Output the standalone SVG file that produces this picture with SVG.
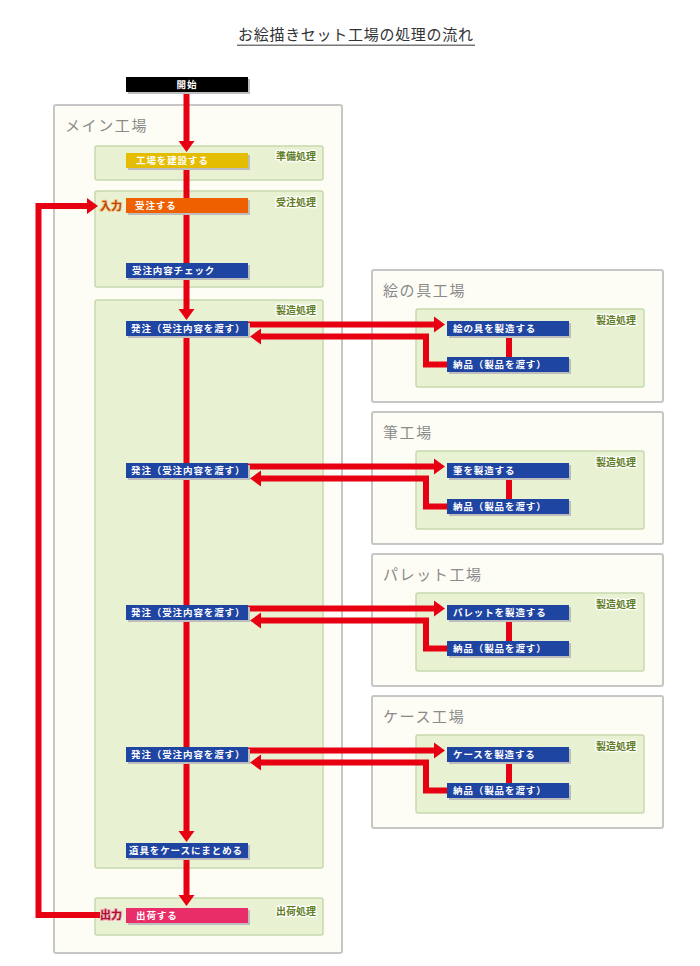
<svg xmlns="http://www.w3.org/2000/svg" width="700" height="966" viewBox="0 0 700 966">
<defs>
<style>
text{font-family:"Noto Sans CJK JP","Noto Sans",sans-serif}
.title{font-size:15px;fill:#333}
.outer{fill:#fdfdf6;stroke:#c6c6c6;stroke-width:2}
.inner{fill:#e8f2d2;stroke:#c6d9ae;stroke-width:1.5}
.ftitle{font-size:15px;fill:#8a8a8a;letter-spacing:1.6px}
.plabel{font-size:10px;font-weight:bold;fill:#5f7d22;stroke:#fff;stroke-width:2.5px;paint-order:stroke;stroke-linejoin:round;text-anchor:end}
.shadow{fill:#bdbdbd}
.nt{font-size:9.5px;font-weight:bold;fill:#fff;letter-spacing:0.9px}
.blue{fill:#1f45a2}
.conn{fill:none;stroke:#e60012;stroke-width:6;stroke-linejoin:miter}
</style>
<marker id="ah" markerUnits="userSpaceOnUse" markerWidth="12" markerHeight="18" refX="0" refY="9" orient="auto">
<path d="M0,1 L11,9 L0,17 Z" fill="#e60012"/>
</marker>
</defs>
<rect width="700" height="966" fill="#fff"/>
<g id="title">
<text class="title" x="238" y="40" textLength="235" lengthAdjust="spacing">お絵描きセット工場の処理の流れ</text>
<rect x="237" y="44.5" width="238" height="1.5" fill="#777"/>
</g>

<g id="main-factory">
<rect class="outer" x="54" y="105" width="288" height="848" rx="2"/>
<text class="ftitle" x="65" y="131">メイン工場</text>
<rect class="inner" x="95" y="146" width="228" height="34" rx="2"/>
<text class="plabel" x="316" y="160">準備処理</text>
<rect class="inner" x="95" y="191" width="228" height="96" rx="2"/>
<text class="plabel" x="316" y="206">受注処理</text>
<rect class="inner" x="95" y="300" width="228" height="568" rx="2"/>
<text class="plabel" x="316" y="314">製造処理</text>
<rect class="inner" x="95" y="898" width="228" height="37" rx="2"/>
<text class="plabel" x="316" y="915">出荷処理</text>
</g>

<g id="paint-factory">
<rect class="outer" x="372" y="270" width="291" height="132" rx="2"/>
<text class="ftitle" x="383" y="296">絵の具工場</text>
<rect class="inner" x="416" y="309" width="228" height="78" rx="2"/>
<text class="plabel" x="636" y="324">製造処理</text>
</g>
<g id="brush-factory">
<rect class="outer" x="372" y="412" width="291" height="132" rx="2"/>
<text class="ftitle" x="383" y="438">筆工場</text>
<rect class="inner" x="416" y="451" width="228" height="78" rx="2"/>
<text class="plabel" x="636" y="466">製造処理</text>
</g>
<g id="palette-factory">
<rect class="outer" x="372" y="554" width="291" height="132" rx="2"/>
<text class="ftitle" x="383" y="580">パレット工場</text>
<rect class="inner" x="416" y="593" width="228" height="78" rx="2"/>
<text class="plabel" x="636" y="608">製造処理</text>
</g>
<g id="case-factory">
<rect class="outer" x="372" y="696" width="291" height="132" rx="2"/>
<text class="ftitle" x="383" y="722">ケース工場</text>
<rect class="inner" x="416" y="735" width="228" height="78" rx="2"/>
<text class="plabel" x="636" y="750">製造処理</text>
</g>

<g id="connectors">
<path class="conn" d="M186.5,92 V141" marker-end="url(#ah)"/>
<path class="conn" d="M186.5,168 V309" marker-end="url(#ah)"/>
<path class="conn" d="M186.5,336 V831" marker-end="url(#ah)"/>
<path class="conn" d="M186.5,857 V895" marker-end="url(#ah)"/>
<path class="conn" d="M100,915 H38.5 V206 H87" marker-end="url(#ah)"/>
<path class="conn" d="M248,324.5 H434" marker-end="url(#ah)"/>
<path class="conn" d="M447,364.5 H426 V336.5 H261" marker-end="url(#ah)"/>
<path class="conn" d="M509,336 V357"/>
<path class="conn" d="M248,466.5 H434" marker-end="url(#ah)"/>
<path class="conn" d="M447,506.5 H426 V478.5 H261" marker-end="url(#ah)"/>
<path class="conn" d="M509,478 V499"/>
<path class="conn" d="M248,608.5 H434" marker-end="url(#ah)"/>
<path class="conn" d="M447,648.5 H426 V620.5 H261" marker-end="url(#ah)"/>
<path class="conn" d="M509,620 V641"/>
<path class="conn" d="M248,750.5 H434" marker-end="url(#ah)"/>
<path class="conn" d="M447,790.5 H426 V762.5 H261" marker-end="url(#ah)"/>
<path class="conn" d="M509,762 V783"/>
</g>

<g id="start">
<rect class="shadow" x="128" y="79" width="122" height="15"/>
<rect x="126" y="77" width="122" height="15" fill="#000"/>
<text class="nt" x="187" y="88" text-anchor="middle">開始</text>
</g>
<g id="build">
<rect class="shadow" x="128" y="155" width="122" height="15"/>
<rect x="126" y="153" width="122" height="15" fill="#e5bd00"/>
<text class="nt" x="136" y="164">工場を建設する</text>
</g>
<g id="input-label">
<text x="100" y="210" font-size="11" font-weight="bold" fill="#b84800" stroke="#f6c48a" stroke-width="2" paint-order="stroke" stroke-linejoin="round">入力</text>
</g>
<g id="receive">
<rect class="shadow" x="128" y="200" width="122" height="15"/>
<rect x="126" y="198" width="122" height="15" fill="#ee6000"/>
<text class="nt" x="135" y="209">受注する</text>
</g>
<g id="check">
<rect class="shadow" x="128" y="265" width="122" height="15"/>
<rect class="blue" x="126" y="263" width="122" height="15"/>
<text class="nt" x="132" y="274">受注内容チェック</text>
</g>
<g id="order1">
<rect class="shadow" x="128" y="323" width="122" height="15"/>
<rect class="blue" x="126" y="321" width="122" height="15"/>
<text class="nt" x="131" y="332">発注（受注内容を渡す）</text>
</g>
<g id="order2">
<rect class="shadow" x="128" y="465" width="122" height="15"/>
<rect class="blue" x="126" y="463" width="122" height="15"/>
<text class="nt" x="131" y="474">発注（受注内容を渡す）</text>
</g>
<g id="order3">
<rect class="shadow" x="128" y="607" width="122" height="15"/>
<rect class="blue" x="126" y="605" width="122" height="15"/>
<text class="nt" x="131" y="616">発注（受注内容を渡す）</text>
</g>
<g id="order4">
<rect class="shadow" x="128" y="749" width="122" height="15"/>
<rect class="blue" x="126" y="747" width="122" height="15"/>
<text class="nt" x="131" y="758">発注（受注内容を渡す）</text>
</g>
<g id="pack">
<rect class="shadow" x="128" y="845" width="122" height="15"/>
<rect class="blue" x="126" y="843" width="122" height="15"/>
<text class="nt" x="129" y="854">道具をケースにまとめる</text>
</g>
<g id="output-label">
<text x="100" y="919" font-size="11" font-weight="bold" fill="#a8102e" stroke="#f3a8b8" stroke-width="2" paint-order="stroke" stroke-linejoin="round">出力</text>
</g>
<g id="ship">
<rect class="shadow" x="128" y="910" width="122" height="15"/>
<rect x="126" y="908" width="122" height="15" fill="#e92d68"/>
<text class="nt" x="136" y="919">出荷する</text>
</g>

<g id="make-paint">
<rect class="shadow" x="449" y="323" width="122" height="15"/>
<rect class="blue" x="447" y="321" width="122" height="15"/>
<text class="nt" x="453" y="332">絵の具を製造する</text>
</g>
<g id="deliver-paint">
<rect class="shadow" x="449" y="359" width="122" height="15"/>
<rect class="blue" x="447" y="357" width="122" height="15"/>
<text class="nt" x="453" y="368">納品（製品を渡す）</text>
</g>
<g id="make-brush">
<rect class="shadow" x="449" y="465" width="122" height="15"/>
<rect class="blue" x="447" y="463" width="122" height="15"/>
<text class="nt" x="453" y="474">筆を製造する</text>
</g>
<g id="deliver-brush">
<rect class="shadow" x="449" y="501" width="122" height="15"/>
<rect class="blue" x="447" y="499" width="122" height="15"/>
<text class="nt" x="453" y="510">納品（製品を渡す）</text>
</g>
<g id="make-palette">
<rect class="shadow" x="449" y="607" width="122" height="15"/>
<rect class="blue" x="447" y="605" width="122" height="15"/>
<text class="nt" x="453" y="616">パレットを製造する</text>
</g>
<g id="deliver-palette">
<rect class="shadow" x="449" y="643" width="122" height="15"/>
<rect class="blue" x="447" y="641" width="122" height="15"/>
<text class="nt" x="453" y="652">納品（製品を渡す）</text>
</g>
<g id="make-case">
<rect class="shadow" x="449" y="749" width="122" height="15"/>
<rect class="blue" x="447" y="747" width="122" height="15"/>
<text class="nt" x="453" y="758">ケースを製造する</text>
</g>
<g id="deliver-case">
<rect class="shadow" x="449" y="785" width="122" height="15"/>
<rect class="blue" x="447" y="783" width="122" height="15"/>
<text class="nt" x="453" y="794">納品（製品を渡す）</text>
</g>
</svg>
